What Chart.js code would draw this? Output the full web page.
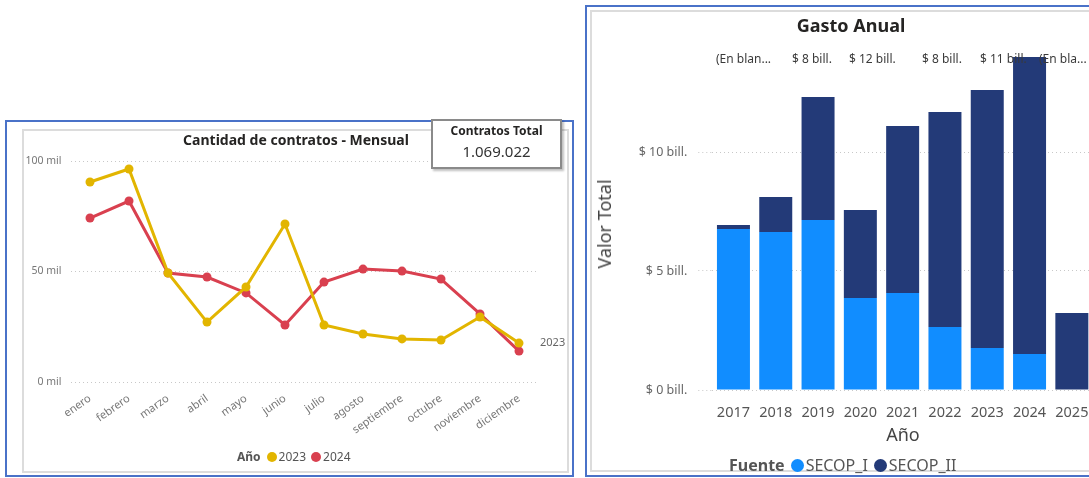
<!DOCTYPE html>
<html lang="es">
<head>
<meta charset="UTF-8">
<title>Contratos mensuales y gasto anual</title>
<script src="https://cdn.jsdelivr.net/npm/chart.js@4.4.1/dist/chart.umd.min.js"></script>
<style>
    body { margin: 0; width: 1089px; height: 478px; overflow: hidden; position: relative; background: #fff;
           font-family: 'Noto Sans', 'Open Sans', sans-serif; color: #444; }
    .abs { position: absolute; }
    .panel { position: absolute; box-sizing: border-box; border: 2px solid #4a72c8; }
    .inner { position: absolute; box-sizing: border-box; border: 2px solid #dcdcdc; }
    .title { position: absolute; transform: translate(-50%, -50%); font-weight: bold; color: #252423; white-space: nowrap; }
    .card { position: absolute; box-sizing: border-box; background: #fff; border: 2px solid #8a8a8a;
            box-shadow: 2px 2px 2px rgba(0,0,0,.25); text-align: center; }
    .legend { position: absolute; display: flex; align-items: center; white-space: nowrap; color: #555; }
    .legend b { color: #555; margin-right: 6px; }
    .dot { display: inline-block; border-radius: 50%; margin-right: 2px; }
    .toplbl { position: absolute; top: 50px; font-size: 12px; color: #3a3a3a; white-space: nowrap; }
</style>
</head>
<body>
    <!-- panel: cantidad de contratos -->
    <div class="panel" style="left:5px; top:120px; width:569px; height:357px;"></div>
    <div class="inner" style="left:22px; top:129px; width:547px; height:344px;"></div>
    <div class="abs" style="left:24px; top:131px; width:542px; height:338px;">
        <canvas id="monthly-chart"></canvas>
    </div>
    <div class="title" style="left:296px; top:139px; font-size:14px;">Cantidad de contratos - Mensual</div>
    <div class="card" style="left:431px; top:119px; width:131px; height:50px;">
        <div style="font-size:12px; font-weight:bold; color:#252423; margin-top:1px;">Contratos Total</div>
        <div style="font-size:15px; color:#333; margin-top:2px;">1.069.022</div>
    </div>
    <div class="legend" style="left:237px; top:448px; font-size:12px;">
        <b>Año</b>
        <span class="dot" style="width:10px; height:10px; background:#e2b500;"></span><span style="margin-right:5px;">2023</span>
        <span class="dot" style="width:10px; height:10px; background:#d9404f;"></span><span>2024</span>
    </div>

    <!-- panel: gasto anual -->
    <div class="panel" style="left:585px; top:5px; width:560px; height:472px;"></div>
    <div class="inner" style="left:590px; top:10px; width:550px; height:462px;"></div>
    <div class="abs" style="left:592px; top:12px; width:540px; height:440px;">
        <canvas id="yearly-chart"></canvas>
    </div>
    <div class="title" style="left:851px; top:25px; font-size:18px;">Gasto Anual</div>
    <div class="toplbl" style="left:716px;">(En blan...</div>
    <div class="toplbl" style="left:792px;">$ 8 bill.</div>
    <div class="toplbl" style="left:849px;">$ 12 bill.</div>
    <div class="toplbl" style="left:922px;">$ 8 bill.</div>
    <div class="toplbl" style="left:980px;">$ 11 bill.</div>
    <div class="toplbl" style="left:1039px;">(En bla...</div>
    <div class="abs" style="left:604px; top:224px; transform:translate(-50%,-50%) rotate(-90deg); font-size:18px; color:#444; white-space:nowrap;">Valor Total</div>
    <div class="abs" style="left:903px; top:434px; transform:translate(-50%,-50%); font-size:18px; color:#444;">Año</div>
    <div class="legend" style="left:729px; top:454px; font-size:16px;">
        <b>Fuente</b>
        <span class="dot" style="width:13px; height:13px; background:#118dff;"></span><span style="margin-right:6px;">SECOP_I</span>
        <span class="dot" style="width:13px; height:13px; background:#233a78;"></span><span>SECOP_II</span>
    </div>

    <script>
        // monthly contracts
        const months = ['enero', 'febrero', 'marzo', 'abril', 'mayo', 'junio', 'julio', 'agosto', 'septiembre', 'octubre', 'noviembre', 'diciembre'];
        const contratos2023 = [90500, 96400, 49300, 27100, 43000, 71500, 25800, 21700, 19500, 19000, 29400, 17600];
        const contratos2024 = [74200, 81900, 49300, 47500, 40300, 25800, 45200, 51100, 50200, 46600, 30800, 14000];
        const monthlyTicks = [0, 50000, 100000];

        // yearly spend, in billones
        const years = ['2017', '2018', '2019', '2020', '2021', '2022', '2023', '2024', '2025'];
        const secopI = [6.76, 6.64, 7.14, 3.87, 4.08, 2.65, 1.76, 1.51, 0];
        const secopII = [0.17, 1.47, 5.17, 3.69, 7.01, 9.03, 10.84, 12.48, 3.24];
        const yearlyTicks = [0, 5, 10];

        // dotted grid: in v4 the dash of grid lines comes from border.dash
        const dottedBorder = { display: false, dash: [1, 3] };

        // label with the series name next to its last point
        const seriesEndLabel = {
            id: 'seriesEndLabel',
            afterDatasetsDraw(chart) {
                const meta = chart.getDatasetMeta(0);
                const last = meta.data[meta.data.length - 1];
                const ctx = chart.ctx;
                ctx.save();
                ctx.font = '11px "Noto Sans", sans-serif';
                ctx.fillStyle = '#666';
                ctx.textBaseline = 'middle';
                ctx.fillText(chart.data.datasets[0].label, last.x + 21, last.y);
                ctx.restore();
            }
        };

        new Chart(document.getElementById('monthly-chart'), {
            type: 'line',
            data: {
                labels: months,
                datasets: [
                    { label: '2023', data: contratos2023, borderColor: '#e2b500', backgroundColor: '#e2b500' },
                    { label: '2024', data: contratos2024, borderColor: '#d9404f', backgroundColor: '#d9404f' }
                ]
            },
            options: {
                responsive: true,
                maintainAspectRatio: false,
                animation: false,
                layout: { padding: { top: 30, right: 27.5, left: 0, bottom: 0 } },
                elements: {
                    line: { borderWidth: 3, tension: 0 },
                    point: { radius: 4.5, borderWidth: 0 }
                },
                plugins: { legend: { display: false }, tooltip: { enabled: false } },
                scales: {
                    x: {
                        offset: true,
                        grid: { display: false },
                        border: { display: false },
                        ticks: { color: '#777', font: { size: 11, family: 'Noto Sans' }, minRotation: 35, maxRotation: 35, padding: 2 },
                        afterFit: scale => { scale.height = 87; }
                    },
                    y: {
                        min: 0,
                        max: 100000,
                        grid: { color: '#c8c8c8', drawTicks: false },
                        border: dottedBorder,
                        ticks: { color: '#777', font: { size: 10.5, family: 'Noto Sans' }, padding: 9,
                                 callback: v => (v / 1000) + ' mil' },
                        afterBuildTicks: scale => { scale.ticks = monthlyTicks.map(v => ({ value: v })); },
                        afterFit: scale => { scale.width = 46.5; }
                    }
                }
            },
            plugins: [seriesEndLabel]
        });

        new Chart(document.getElementById('yearly-chart'), {
            type: 'bar',
            data: {
                labels: years,
                datasets: [
                    { label: 'SECOP_I', data: secopI, backgroundColor: '#118dff' },
                    { label: 'SECOP_II', data: secopII, backgroundColor: '#233a78' }
                ]
            },
            options: {
                responsive: true,
                maintainAspectRatio: false,
                animation: false,
                layout: { padding: { top: 44.8, right: 39, left: 0, bottom: 0 } },
                datasets: { bar: { categoryPercentage: 1, barPercentage: 0.78 } },
                plugins: { legend: { display: false }, tooltip: { enabled: false } },
                scales: {
                    x: {
                        stacked: true,
                        grid: { display: false },
                        border: { display: false },
                        ticks: { color: '#555', font: { size: 14.5, family: 'Noto Sans' }, padding: 6, maxRotation: 0 },
                        afterFit: scale => { scale.height = 62; }
                    },
                    y: {
                        stacked: true,
                        min: 0,
                        max: 14,
                        grid: { color: '#c8c8c8', drawTicks: true, tickLength: 14, tickColor: '#c8c8c8', tickBorderDash: [1, 3] },
                        border: dottedBorder,
                        ticks: { color: '#666', font: { size: 12.5, family: 'Noto Sans' }, padding: 11,
                                 callback: v => '$ ' + v + ' bill.' },
                        afterBuildTicks: scale => { scale.ticks = yearlyTicks.map(v => ({ value: v })); },
                        afterFit: scale => { scale.width = 120.3; }
                    }
                }
            }
        });
    </script>
</body>
</html>
